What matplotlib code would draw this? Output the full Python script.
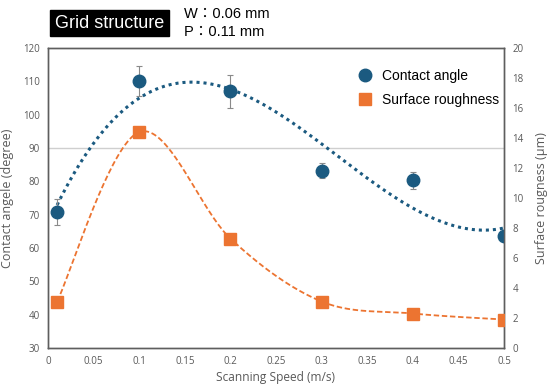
import numpy as np
import matplotlib
matplotlib.use('Agg')
import matplotlib.pyplot as plt

# data
speed = [0.01, 0.1, 0.2, 0.3, 0.4, 0.5]
contact_angle = [70.8, 110.0, 107.0, 83.2, 80.3, 63.5]
angle_err = [4.0, 4.5, 5.0, 2.2, 2.5, 1.0]
roughness = [3.1, 14.4, 7.3, 3.1, 2.3, 1.9]

x_ticks = [0, 0.05, 0.1, 0.15, 0.2, 0.25, 0.3, 0.35, 0.4, 0.45, 0.5]
x_tick_labels = ['0', '0.05', '0.1', '0.15', '0.2', '0.25', '0.3', '0.35', '0.4', '0.45', '0.5']

blue = '#1b5a80'
orange = '#ec7431'
gray_txt = '#595959'

plt.rcParams['font.family'] = ['Open Sans', 'DejaVu Sans']


def smooth_line(xs, ys, xr, yr, n=40):
    # Excel-like smoothed line: Catmull-Rom via cubic Bezier in normalised space
    p = np.column_stack([np.asarray(xs) / xr, np.asarray(ys) / yr])
    out = []
    for i in range(len(p) - 1):
        p0 = p[max(i - 1, 0)]
        p1 = p[i]
        p2 = p[i + 1]
        p3 = p[min(i + 2, len(p) - 1)]
        c1 = p1 + (p2 - p0) / 6
        c2 = p2 - (p3 - p1) / 6
        t = np.linspace(0, 1, n)[:, None]
        seg = ((1 - t) ** 3) * p1 + 3 * ((1 - t) ** 2) * t * c1 + 3 * (1 - t) * t ** 2 * c2 + t ** 3 * p2
        out.append(seg)
    out = np.vstack(out)
    return out[:, 0] * xr, out[:, 1] * yr


fig = plt.figure(figsize=(5.5, 3.9), dpi=100)
ax = fig.add_axes([0.0873, 0.1077, 0.829, 0.769])
ax2 = ax.twinx()

# threshold line at 90 degrees
ax.axhline(90, color='#cfcfcf', lw=1, zorder=1)

# contact angle with polynomial trendline
coef = np.polyfit(speed, contact_angle, 3)
xf = np.linspace(speed[0], speed[-1], 200)
ax.plot(xf, np.polyval(coef, xf), ls=(0, (1, 1.3)), lw=2.2, color=blue, zorder=3)
ax.errorbar(speed, contact_angle, yerr=angle_err, fmt='none', ecolor='#8a8a8a',
            elinewidth=0.8, capsize=2, capthick=0.8, zorder=4)
ax.plot(speed, contact_angle, 'o', ms=9, color=blue, zorder=5, label='Contact angle')

# roughness with smoothed line
sx, sy = smooth_line(speed, roughness, 0.5, 20)
ax2.plot(sx, sy, ls=(0, (3, 1.5)), lw=1.3, color=orange, zorder=3)
ax2.plot(speed, roughness, 's', ms=9, color=orange, zorder=5, label='Surface roughness')

ax.set_xlim(0, 0.5)
ax.set_ylim(30, 120)
ax2.set_ylim(0, 20)
ax.set_xticks(x_ticks)
ax.set_xticklabels(x_tick_labels)
ax.set_yticks(range(30, 121, 10))
ax2.set_yticks(range(0, 21, 2))

for a in (ax, ax2):
    a.tick_params(length=0, labelsize=7, labelcolor=gray_txt, pad=6)
    for s in a.spines.values():
        s.set_color('#5e5e5e')
        s.set_linewidth(1)

ax.set_xlabel('Scanning Speed (m/s)', fontsize=8.6, color=gray_txt, labelpad=3)
ax.set_ylabel('Contact angele (degree)', fontsize=9, color=gray_txt, labelpad=6)
ax2.set_ylabel('Surface rougness (μm)', fontsize=9, color=gray_txt, labelpad=8)

h1, l1 = ax.get_legend_handles_labels()
h2, l2 = ax2.get_legend_handles_labels()
leg = ax2.legend(h1 + h2, l1 + l2, loc='upper left', bbox_to_anchor=(0.629, 0.856),
                 bbox_transform=fig.transFigure,
                 frameon=False, prop={'family': 'Liberation Sans', 'size': 10},
                 handlelength=1.0, handletextpad=0.7, labelspacing=0.73)

fig.text(0.1, 0.94, 'Grid structure', fontsize=13, color='white',
         family='Liberation Sans', va='center', ha='left',
         bbox=dict(facecolor='black', edgecolor='black', pad=3.2))
fig.text(0.335, 0.963, 'W：0.06 mm', fontsize=10.5, family=['Liberation Sans', 'Noto Sans CJK TC'],
         va='center', ha='left')
fig.text(0.335, 0.918, 'P：0.11 mm', fontsize=10.5, family=['Liberation Sans', 'Noto Sans CJK TC'],
         va='center', ha='left')

fig.savefig('out.png', dpi=100)
